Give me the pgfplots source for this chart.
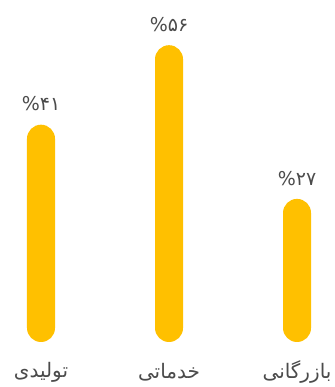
\documentclass[border=0pt]{standalone}
\usepackage{fontspec}
\usepackage{pgfplots}
\pgfplotsset{compat=1.18}
\TeXXeTstate=1
\newfontfamily\arabicfont[Script=Arabic]{DejaVu Sans}
\definecolor{baryellow}{RGB}{255,192,0}
\definecolor{txtgray}{RGB}{75,75,75}
\begin{document}
\begin{tikzpicture}
\path (0,0) rectangle (332pt,387pt);
\begin{axis}[
  at={(0pt,45pt)}, anchor=south west,
  scale only axis, width=332pt, height=339.2pt,
  xmin=-0.3203, xmax=2.2734, ymin=0, ymax=64,
  axis line style={draw=none}, tick style={draw=none},
  ymajorticks=false, xmajorticks=false,
  clip=false,
  ybar, bar width=28pt,
  nodes near coords, point meta=explicit symbolic,
  every node near coord/.append style={font=\arabicfont\fontsize{19}{22}\selectfont, text=txtgray, yshift=10pt},
]
\addplot[draw=none, fill=baryellow, rounded corners=14pt] coordinates {(0,41) [\%۴۱] (1,56) [\%۵۶] (2,27) [\%۲۷]};
\node[font=\arabicfont\fontsize{20}{24}\selectfont, text=txtgray] at (axis cs:0,0) [yshift=-30pt] {\beginR تولیدی\endR};
\node[font=\arabicfont\fontsize{20}{24}\selectfont, text=txtgray] at (axis cs:1,0) [yshift=-30pt] {\beginR خدماتی\endR};
\node[font=\arabicfont\fontsize{20}{24}\selectfont, text=txtgray] at (axis cs:2,0) [yshift=-30pt] {\beginR بازرگانی\endR};
\end{axis}
\end{tikzpicture}
\end{document}
